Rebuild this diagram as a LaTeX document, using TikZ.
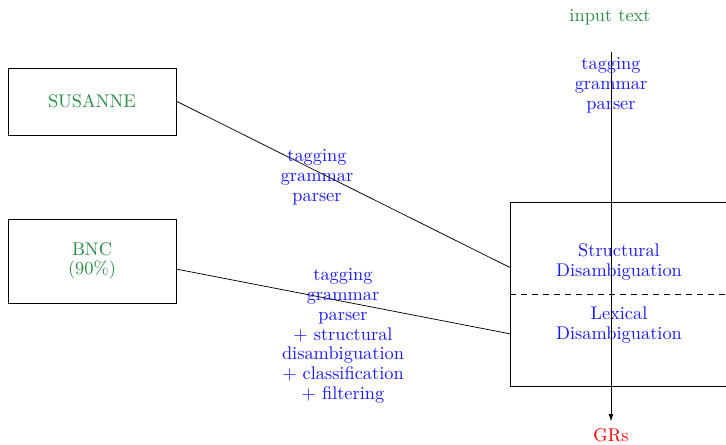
\documentclass[tikz,border=0pt]{standalone}
\usetikzlibrary{arrows.meta}
\definecolor{labgreen}{RGB}{40,140,70}
\definecolor{labblue}{RGB}{25,25,255}
\begin{document}
\begin{tikzpicture}[x=0.545pt,y=-0.545pt,
  every node/.style={font=\fontsize{10}{10.5}\selectfont, align=center, inner sep=0pt},
  corpus/.style={draw, minimum width=91.6pt},
  green text/.style={text=labgreen},
  blue text/.style={text=labblue},
  steplabel/.style={text=labblue, font=\fontsize{10}{10.8}\selectfont},
  flow/.style={-{Latex[length=4pt,width=2.6pt]}}]
\useasboundingbox (0,0) rectangle (726,444);
\clip (0,0) rectangle (726,444);
% corpora
\node[corpus, minimum height=36.5pt, green text] (susanne) at (92,101.5) {SUSANNE};
\node[corpus, minimum height=45.8pt, green text] (bnc) at (92,261) {BNC\\(90\%)};
% disambiguation box
\node[draw, minimum width=125.4pt, minimum height=100.3pt] (dis) at (625.5,294) {};
\draw[dashed] (dis.west) -- (dis.east);
\node[blue text] (struct) at (619,262) {Structural\\Disambiguation};
\node[blue text] (lex) at (619,325) {Lexical\\Disambiguation};
% connector ends
\coordinate (sout) at (176,101);
\coordinate (bout) at (176,269);
\coordinate (sin) at (511,268);
\coordinate (bin) at (511,334);
\draw (sout) -- (sin);
\draw (bout) -- (bin);
% pipeline
\node[green text] (input) at (610,17) {input text};
\coordinate (top) at (611,52);
\node[text=red] (grs) at (611,435) {GRs};
\draw[flow, shorten >=3.6pt] (top) -- (grs.north);
% labels
\node[steplabel] (toplab) at (611,85) {tagging\\grammar\\parser};
\node[steplabel] (slab) at (317,177) {tagging\\grammar\\parser};
\node[steplabel] (blab) at (343,336) {tagging\\grammar\\parser\\+ structural\\disambiguation\\+ classification\\+ filtering};
\end{tikzpicture}
\end{document}
